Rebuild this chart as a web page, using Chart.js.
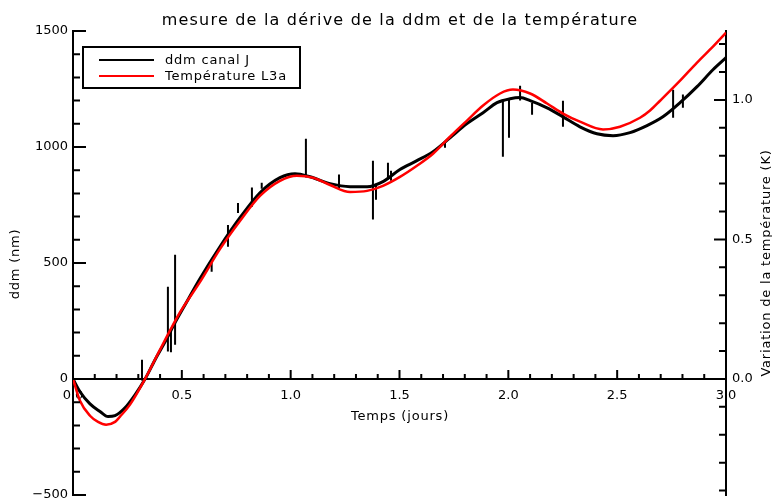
<!DOCTYPE html>
<html>
<head>
<meta charset="utf-8">
<title>mesure de la dérive de la ddm et de la température</title>
<script src="https://cdn.jsdelivr.net/npm/chart.js@4.4.0/dist/chart.umd.min.js"></script>
<style>
  html, body { margin: 0; padding: 0; background: #fff; }
  #chart { display: block; }
</style>
</head>
<body>
<canvas id="chart" width="772" height="498"></canvas>
<script>
// ------------------------------------------------------------
// data
// ------------------------------------------------------------
const chartTitle = 'mesure de la dérive de la ddm et de la température';
const xTitle = 'Temps (jours)';
const yTitle = 'ddm (nm)';
const y2Title = 'Variation de la température (K)';

// ddm canal J (nm), smooth trend
const ddmTime = [0, 0.032, 0.078, 0.124, 0.161, 0.193, 0.239, 0.285, 0.331, 0.377, 0.423, 0.469, 0.515,
  0.583, 0.675, 0.767, 0.859, 0.951, 1.020, 1.089, 1.181, 1.273, 1.351, 1.424, 1.502, 1.580, 1.654,
  1.732, 1.810, 1.884, 1.948, 2.008, 2.054, 2.100, 2.178, 2.251, 2.329, 2.407, 2.481, 2.559, 2.637,
  2.710, 2.789, 2.867, 2.940, 3.0];
const ddmValues = [0, -55, -107, -140, -162, -158, -124, -68, 0, 83, 160, 243, 320,
  432, 570, 695, 803, 868, 885, 872, 842, 829, 829, 851, 903, 941, 980,
  1040, 1101, 1148, 1191, 1208, 1213, 1200, 1169, 1130, 1087, 1057, 1049, 1062, 1092,
  1130, 1191, 1260, 1333, 1385];

// glitches of the ddm signal (nm)
const spikeTime   = [0.317, 0.436, 0.450, 0.469, 0.637, 0.712, 0.758, 0.822, 0.867, 1.070, 1.222, 1.378,
  1.392, 1.447, 1.461, 1.709, 1.975, 2.003, 2.054, 2.109, 2.251, 2.757, 2.802];
const spikeTop    = [83, 398, 212, 536, 513, 664, 759, 825, 846, 1036, 881, 941,
  842, 932, 898, 1023, 1204, 1208, 1264, 1190, 1199, 1247, 1226];
const spikeBottom = [-7, 118, 115, 148, 462, 570, 716, 742, 820, 868, 816, 687,
  773, 860, 855, 997, 958, 1040, 1200, 1139, 1087, 1126, 1169];

// Température L3a (K)
const tempTime = [0, 0.032, 0.078, 0.115, 0.152, 0.193, 0.216, 0.262, 0.331, 0.400, 0.446, 0.492,
  0.583, 0.675, 0.767, 0.859, 0.951, 1.029, 1.103, 1.181, 1.273, 1.351, 1.424, 1.502, 1.580, 1.654,
  1.732, 1.810, 1.884, 1.962, 2.021, 2.100, 2.178, 2.251, 2.329, 2.435, 2.513, 2.605, 2.651, 2.697,
  2.789, 2.867, 2.940, 3.0];
const tempValues = [0, -0.078, -0.132, -0.154, -0.164, -0.154, -0.135, -0.092, 0.0, 0.105, 0.174, 0.239,
  0.347, 0.465, 0.566, 0.656, 0.710, 0.728, 0.721, 0.695, 0.670, 0.674, 0.692, 0.724, 0.764, 0.807,
  0.868, 0.926, 0.980, 1.023, 1.037, 1.023, 0.987, 0.951, 0.922, 0.894, 0.904, 0.936, 0.962, 0.997,
  1.069, 1.134, 1.191, 1.241];

// axes
const xRange = [0, 3];
const yRange = [-500, 1500];
const y2Range = [-0.416, 1.247];
const xTickLabels = ['0.0', '0.5', '1.0', '1.5', '2.0', '2.5', '3.0'];
const yTickLabels = ['\u2212500', '0', '500', '1000', '1500'];
const y2TickLabels = ['0.0', '0.5', '1.0'];

const FONT = 'DejaVu Sans';

// ------------------------------------------------------------
// helpers
// ------------------------------------------------------------
function labelFor(value, labels) {
  const hit = labels.find(l => Math.abs(parseFloat(l.replace('\u2212', '-')) - value) < 1e-6);
  return hit === undefined ? '' : hit;
}

function isMajor(value, labels) {
  return labelFor(value, labels) !== '';
}

const ddmPoints = ddmTime.map((t, i) => ({ x: t, y: ddmValues[i] }));
const tempPoints = tempTime.map((t, i) => ({ x: t, y: tempValues[i] }));
const spikePoints = [];
spikeTime.forEach((t, i) => {
  spikePoints.push({ x: t, y: spikeTop[i] }, { x: t, y: spikeBottom[i] }, { x: t, y: null });
});

// ------------------------------------------------------------
// inward tick marks, titles and boxed legend
// ------------------------------------------------------------
const idlDecor = {
  id: 'idlDecor',
  afterDatasetsDraw(chart) {
    const { ctx, chartArea, scales } = chart;
    const y0 = scales.y.getPixelForValue(0);
    ctx.save();
    ctx.strokeStyle = '#000';
    ctx.lineWidth = 2;
    ctx.beginPath();
    scales.x.ticks.forEach(t => {
      const px = scales.x.getPixelForValue(t.value);
      const len = isMajor(t.value, xTickLabels) ? 9 : 5;
      ctx.moveTo(px, y0); ctx.lineTo(px, y0 - len);
    });
    scales.y.ticks.forEach(t => {
      const py = scales.y.getPixelForValue(t.value);
      const len = isMajor(t.value, yTickLabels) ? 13 : 7;
      ctx.moveTo(chartArea.left, py); ctx.lineTo(chartArea.left + len, py);
    });
    scales.y2.ticks.forEach(t => {
      const py = scales.y2.getPixelForValue(t.value);
      const len = isMajor(t.value, y2TickLabels) ? 12 : 7;
      ctx.moveTo(chartArea.right, py); ctx.lineTo(chartArea.right - len, py);
    });
    ctx.stroke();
    ctx.restore();
  },
  afterDraw(chart) {
    const { ctx } = chart;
    ctx.save();
    ctx.fillStyle = '#000';

    // title
    ctx.font = `16px "${FONT}"`;
    ctx.letterSpacing = '1.2px';
    ctx.textAlign = 'center';
    ctx.textBaseline = 'alphabetic';
    ctx.fillText(chartTitle, 400, 25);

    // axis titles
    ctx.font = `13px "${FONT}"`;
    ctx.letterSpacing = '0.8px';
    ctx.fillText(xTitle, 400, 420);

    ctx.save();
    ctx.translate(19, 264);
    ctx.rotate(-Math.PI / 2);
    ctx.fillText(yTitle, 0, 0);
    ctx.restore();

    ctx.save();
    ctx.translate(770, 263);
    ctx.rotate(-Math.PI / 2);
    ctx.fillText(y2Title, 0, 0);
    ctx.restore();

    // legend
    ctx.strokeStyle = '#000';
    ctx.lineWidth = 2;
    ctx.strokeRect(83, 47, 217, 41);
    const entries = chart.data.datasets.filter(d => d.inLegend);
    entries.sort((a, b) => a.legendRank - b.legendRank);
    ctx.textAlign = 'left';
    ctx.textBaseline = 'middle';
    entries.forEach((d, i) => {
      const ly = 60 + i * 16;
      ctx.strokeStyle = d.borderColor;
      ctx.beginPath();
      ctx.moveTo(99, ly); ctx.lineTo(154, ly);
      ctx.stroke();
      ctx.fillText(d.label, 165, ly + 1);
    });
    ctx.restore();
  }
};

// ------------------------------------------------------------
// chart
// ------------------------------------------------------------
Chart.defaults.font.family = FONT;
Chart.defaults.font.size = 13;
Chart.defaults.color = '#000';

new Chart(document.getElementById('chart'), {
  type: 'line',
  data: {
    datasets: [
      {
        label: 'Température L3a', data: tempPoints, yAxisID: 'y2',
        borderColor: '#ff0000', borderWidth: 2.5, pointRadius: 0,
        cubicInterpolationMode: 'monotone', order: 0, inLegend: true, legendRank: 1
      },
      {
        label: 'ddm canal J', data: ddmPoints, yAxisID: 'y',
        borderColor: '#000000', borderWidth: 3, pointRadius: 0,
        cubicInterpolationMode: 'monotone', order: 1, inLegend: true, legendRank: 0
      },
      {
        label: 'glitches', data: spikePoints, yAxisID: 'y',
        borderColor: '#000000', borderWidth: 2, pointRadius: 0,
        tension: 0, spanGaps: false, order: 2, inLegend: false
      }
    ]
  },
  options: {
    responsive: false,
    animation: false,
    devicePixelRatio: 1,
    layout: { padding: { top: 31, bottom: 3, left: 0, right: 0 } },
    plugins: { legend: { display: false }, tooltip: { enabled: false }, title: { display: false } },
    scales: {
      x: {
        type: 'linear', min: xRange[0], max: xRange[1],
        position: { y: 0 },
        grid: { display: false, drawTicks: false },
        border: { display: true, color: '#000', width: 2 },
        ticks: {
          stepSize: 0.1, autoSkip: false, maxRotation: 0, padding: 9,
          callback: v => labelFor(v, xTickLabels)
        },
        afterFit: s => { s.height = 0; s.paddingTop = 0; s.paddingBottom = 0; }
      },
      y: {
        type: 'linear', position: 'left', min: yRange[0], max: yRange[1],
        grid: { display: false, drawTicks: false },
        border: { display: true, color: '#000', width: 2 },
        ticks: { stepSize: 100, autoSkip: false, padding: 5, callback: v => labelFor(v, yTickLabels) },
        afterFit: s => { s.width = 73; s.paddingTop = 0; s.paddingBottom = 0; }
      },
      y2: {
        type: 'linear', position: 'right', min: y2Range[0], max: y2Range[1],
        grid: { display: false, drawTicks: false },
        border: { display: true, color: '#000', width: 2 },
        ticks: {
          stepSize: 0.1, includeBounds: false, autoSkip: false, padding: 6,
          callback: v => labelFor(v, y2TickLabels)
        },
        afterFit: s => { s.width = 46; s.paddingTop = 0; s.paddingBottom = 0; }
      }
    }
  },
  plugins: [idlDecor]
});
</script>
</body>
</html>
